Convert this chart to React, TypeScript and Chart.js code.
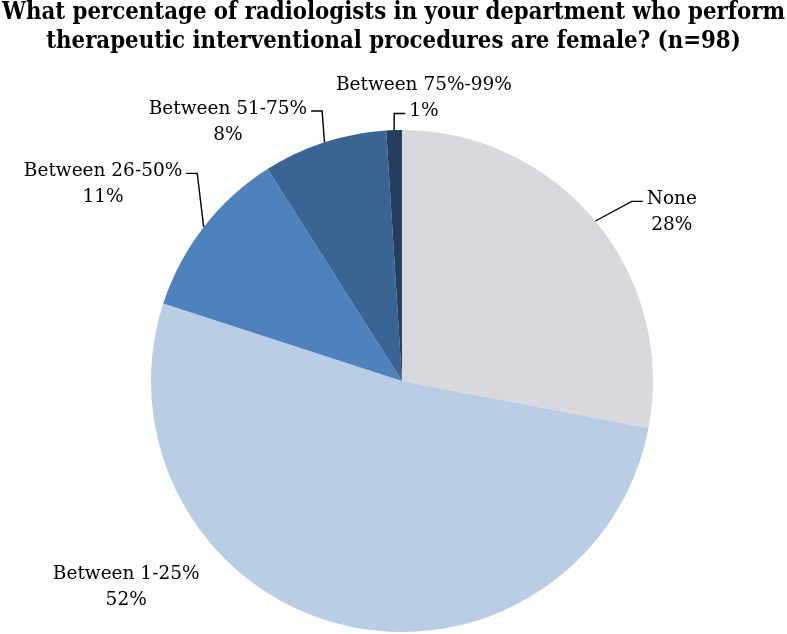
import React, { useEffect, useRef } from "react";
import { Chart, registerables } from "chart.js";

Chart.register(...registerables);

const titleLines = [
  "What percentage of radiologists in your department who perform",
  "therapeutic interventional procedures are female? (n=98)",
];
const categories = ["None", "Between 1-25%", "Between 26-50%", "Between 51-75%", "Between 75%-99%"];
const values = [28, 52, 11, 8, 1];
const colors = ["#D9D9DD", "#B9CDE5", "#4F81BD", "#3A6494", "#243F60"];

// label placement (clockwise degrees from 12 o'clock, radius multiple)
const labelAngles = [57.7, 233.5, 303.6, 326.3, 4.4];
const labelRadii = [1.272, 1.367, 1.43, 1.25, 1.137];
// which text line the leader line attaches to (-1 = no leader)
const leaderAttach = [0, -1, 0, 0, 1];

const LABEL_FONT = '18.5px "DejaVu Serif"';
const TITLE_FONT = 'bold 23.5px "DejaVu Serif"';

const labelPlugin = {
  id: "pieLabels",
  afterDraw(chart: any) {
    const ctx: CanvasRenderingContext2D = chart.ctx;
    const total = values.reduce((a, b) => a + b, 0);
    const W = chart.width;

    // title
    ctx.save();
    ctx.fillStyle = "#000";
    ctx.font = TITLE_FONT;
    ctx.textAlign = "center";
    ctx.textBaseline = "alphabetic";
    const w1 = ctx.measureText(titleLines[0]).width;
    const scale = Math.min(1, 783 / w1);
    const baselines = [19, 48];
    titleLines.forEach((t, i) => {
      const w = ctx.measureText(t).width;
      ctx.fillText(t, W / 2, baselines[i], w * scale);
    });
    ctx.restore();

    const meta = chart.getDatasetMeta(0);
    ctx.save();
    ctx.font = LABEL_FONT;
    ctx.fillStyle = "#000";
    ctx.strokeStyle = "#000";
    ctx.lineWidth = 1.4;
    ctx.textAlign = "center";
    ctx.textBaseline = "alphabetic";
    const lh = 26;
    const capHalf = 6.6;
    meta.data.forEach((arc: any, i: number) => {
      const p = arc.getProps(["x", "y", "startAngle", "endAngle", "outerRadius"], true);
      const R = p.outerRadius;
      const mid = (p.startAngle + p.endAngle) / 2;
      const ax = p.x + R * Math.cos(mid);
      const ay = p.y + R * Math.sin(mid);
      const la = ((labelAngles[i] - 90) * Math.PI) / 180;
      const cx = p.x + labelRadii[i] * R * Math.cos(la);
      const cy = p.y + labelRadii[i] * R * Math.sin(la);
      const lines = [categories[i], Math.round((values[i] / total) * 100) + "%"];
      const centers = lines.map((_, j) => cy + (j - 0.5) * lh);
      lines.forEach((t, j) => ctx.fillText(t, cx, centers[j] + capHalf));
      const at = leaderAttach[i];
      if (at >= 0) {
        const w = ctx.measureText(lines[at]).width;
        const ly = centers[at] + 4;
        let endX: number, elbowX: number;
        if (cx > ax) {
          endX = cx - w / 2 - 4;
          elbowX = endX - 11;
        } else {
          endX = cx + w / 2 + 4;
          elbowX = endX + 11;
        }
        ctx.beginPath();
        ctx.moveTo(ax, ay);
        ctx.lineTo(elbowX, ly);
        ctx.lineTo(endX, ly);
        ctx.stroke();
      }
    });
    ctx.restore();
  },
};

export default function App() {
  const ref = useRef<HTMLCanvasElement>(null);
  useEffect(() => {
    if (!ref.current) return;
    const chart = new Chart(ref.current, {
      type: "pie",
      data: {
        labels: categories,
        datasets: [
          {
            data: values,
            backgroundColor: colors,
            borderWidth: 0,
          },
        ],
      },
      options: {
        animation: false,
        responsive: false,
        layout: { padding: { top: 130, left: 151, right: 134, bottom: 2 } },
        plugins: {
          legend: { display: false },
          title: { display: false },
          tooltip: { enabled: false },
        },
      },
      plugins: [labelPlugin],
    });
    return () => chart.destroy();
  }, []);
  return (
    <div style={{ position: "fixed", left: 0, top: 0, width: 787, height: 634, background: "#fff" }}>
      <canvas ref={ref} width={787} height={634} />
    </div>
  );
}
